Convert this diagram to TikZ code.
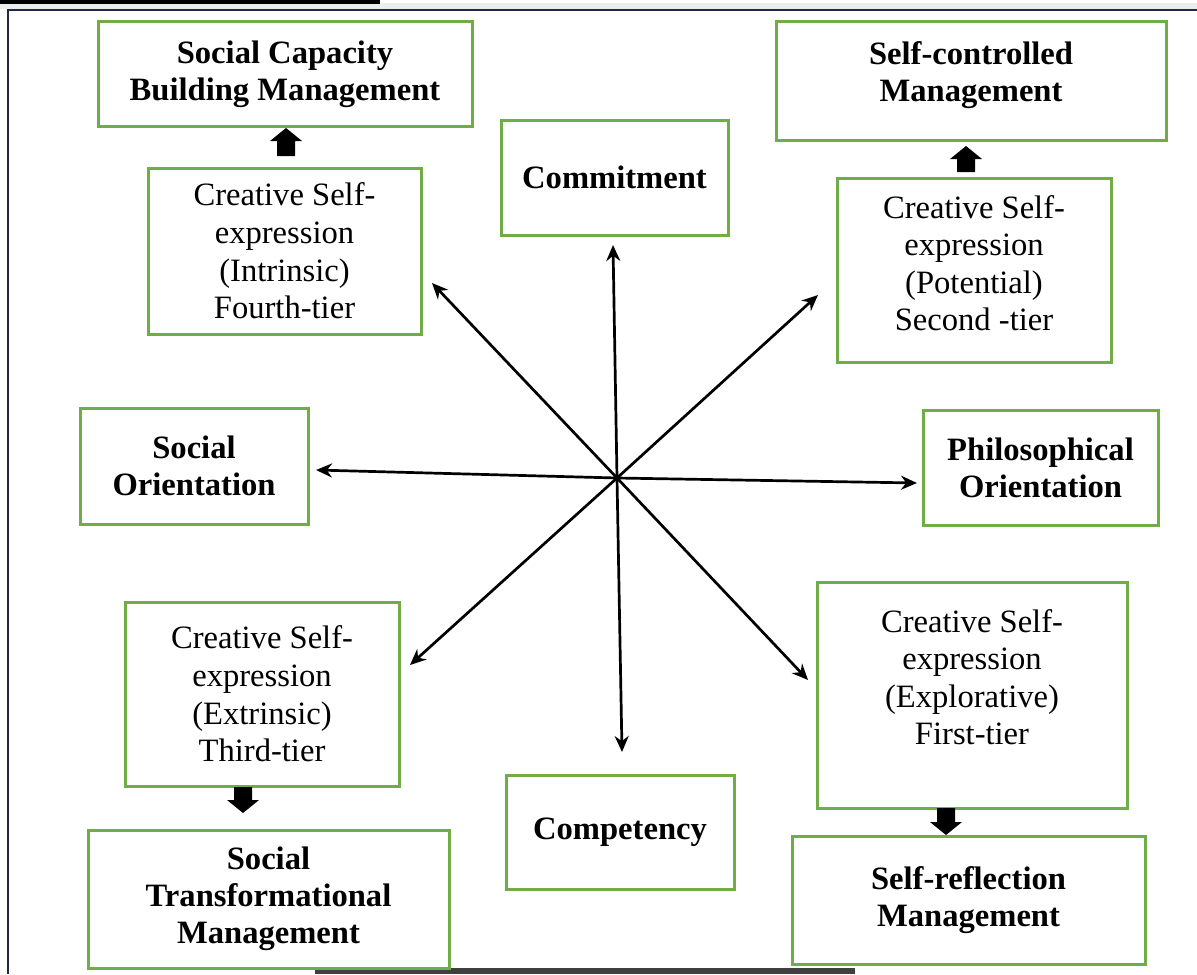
\documentclass[tikz,border=0pt]{standalone}
\usepackage{fontspec}
\setmainfont{Liberation Serif}
\usetikzlibrary{arrows.meta}
\definecolor{boxgreen}{RGB}{112,173,71}
\definecolor{framenavy}{RGB}{32,42,72}

\begin{document}
\begin{tikzpicture}[x = 0.5pt, y = -0.5pt,
	box/.style = {draw = boxgreen, line width = 1.5pt, inner sep = 0pt, align = center, font = \fontsize{16.3}{18.8}\selectfont},
	title/.style = {box, font = \fontsize{16.3}{18.5}\selectfont\bfseries},
	spoke/.style = {->, line width = 1.35pt},
	> = {Stealth[length = 8pt, width = 7pt]}]
	\useasboundingbox ( 0, 0 ) rectangle ( 1197, 974 );
	\fill[white] ( 0, 0 ) rectangle ( 1197, 974 );
	% page edge
	\fill[black!7] ( 0, 3 ) rectangle ( 1197, 9 );
	\fill[black] ( 0, 0 ) rectangle ( 380, 4 );
	\draw[framenavy, line width = 1pt] ( 8, 974 ) -- ( 8, 10 ) -- ( 1197, 10 );
	\fill[black!75] ( 315, 968 ) rectangle ( 855, 974 );
	% boxes
	\node[title, minimum width = 187pt, minimum height = 52pt] (capacity) at ( 285, 74 ) {Social Capacity\\Building Management};
	\node[box, minimum width = 136.5pt, minimum height = 83pt] (intrinsic) at ( 284.5, 251 ) {Creative Self-\\expression\\(Intrinsic)\\Fourth-tier};
	\node[title, minimum width = 113.5pt, minimum height = 57.5pt] (commitment) at ( 614.5, 177.5 ) {Commitment};
	\node[title, minimum width = 195pt, minimum height = 59pt, text depth = 9pt] (selfctrl) at ( 971, 81 ) {Self-controlled\\Management};
	\node[box, minimum width = 137pt, minimum height = 92pt, text depth = 7pt] (potential) at ( 974, 270 ) {Creative Self-\\expression\\(Potential)\\Second -tier};
	\node[title, minimum width = 114pt, minimum height = 58pt] (socorient) at ( 194, 466 ) {Social\\Orientation};
	\node[title, minimum width = 117.5pt, minimum height = 57.5pt] (philorient) at ( 1040.5, 467.5 ) {Philosophical\\Orientation};
	\node[box, minimum width = 137pt, minimum height = 92pt] (extrinsic) at ( 262, 694 ) {Creative Self-\\expression\\(Extrinsic)\\Third-tier};
	\node[title, minimum width = 114pt, minimum height = 57pt] (competency) at ( 620, 832 ) {Competency};
	\node[box, minimum width = 155pt, minimum height = 113pt, text depth = 18pt] (explorative) at ( 972, 695 ) {Creative Self-\\expression\\(Explorative)\\First-tier};
	\node[title, minimum width = 180.5pt, minimum height = 69pt] (transform) at ( 268.5, 899 ) {Social\\Transformational\\Management};
	\node[title, minimum width = 176.5pt, minimum height = 64pt] (reflection) at ( 968.5, 900 ) {Self-reflection\\Management};
	% spokes
	\coordinate (hub) at ( 617, 478 );
	\coordinate (tipN) at ( 613, 245 );
	\coordinate (tipNE) at ( 818, 295 );
	\coordinate (tipE) at ( 917, 483 );
	\coordinate (tipSE) at ( 808, 680 );
	\coordinate (tipS) at ( 622, 752 );
	\coordinate (tipSW) at ( 410, 665 );
	\coordinate (tipW) at ( 316, 470 );
	\coordinate (tipNW) at ( 432, 283 );
	\foreach \t in {N, NE, E, SE, S, SW, W, NW}
		\draw[spoke] (hub) -- (tip\t);
	% block arrows
	\fill ( 286, 128 ) -- ++( 16, 13 ) -- ++( -7, 0 ) -- ++( 0, 15 ) -- ++( -18, 0 ) -- ++( 0, -15 ) -- ++( -7, 0 ) -- cycle;
	\fill ( 966, 146 ) -- ++( 16, 13 ) -- ++( -7, 0 ) -- ++( 0, 13 ) -- ++( -18, 0 ) -- ++( 0, -13 ) -- ++( -7, 0 ) -- cycle;
	\fill ( 243, 813 ) -- ++( 16, -13 ) -- ++( -7, 0 ) -- ++( 0, -13 ) -- ++( -18, 0 ) -- ++( 0, 13 ) -- ++( -7, 0 ) -- cycle;
	\fill ( 946, 835 ) -- ++( 16, -13 ) -- ++( -7, 0 ) -- ++( 0, -14 ) -- ++( -18, 0 ) -- ++( 0, 14 ) -- ++( -7, 0 ) -- cycle;
\end{tikzpicture}
\end{document}
